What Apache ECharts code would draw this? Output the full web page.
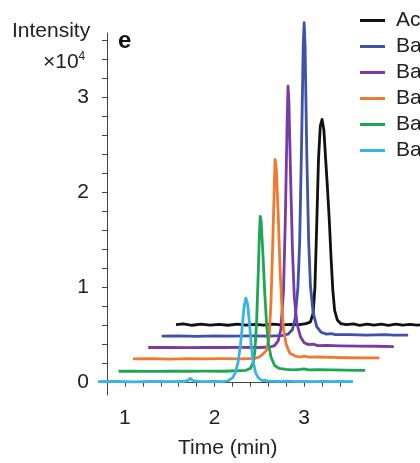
<!DOCTYPE html>
<html>
<head>
<meta charset="utf-8">
<script src="https://cdn.jsdelivr.net/npm/echarts@6/dist/echarts.min.js"></script>
<style>
html,body{margin:0;padding:0;background:#fff;}
#chart{width:420px;height:463px;}
</style>
</head>
<body>
<div id="chart"></div>
<script>
// Series names (legend text is clipped by the picture edge)
const seriesNames = ['Ac', 'Ba1', 'Ba2', 'Ba3', 'Ba4', 'Ba5'];

// Traces in plotted coordinates [time (min), intensity (x10^4)], offset waterfall as in the picture
const acTrace = [[1.57,0.61],[1.65,0.618],[1.75,0.604],[1.85,0.616],[1.95,0.606],[2.05,0.614],[2.15,0.604],[2.25,0.616],[2.35,0.606],[2.45,0.614],[2.55,0.606],[2.65,0.616],[2.75,0.608],[2.85,0.614],[2.95,0.61],[3.02,0.62],[3.07,0.64],[3.10,0.73],[3.12,1.00],[3.14,1.65],[3.16,2.35],[3.18,2.70],[3.20,2.77],[3.22,2.66],[3.24,2.35],[3.26,2.05],[3.28,1.72],[3.30,1.32],[3.32,0.97],[3.34,0.76],[3.37,0.66],[3.41,0.62],[3.47,0.61],[3.55,0.618],[3.62,0.604],[3.70,0.616],[3.78,0.606],[3.86,0.616],[3.94,0.604],[4.02,0.616],[4.10,0.606],[4.18,0.614],[4.26,0.606],[4.35,0.612]];
const ba1Trace = [[1.41,0.49],[1.6,0.492],[1.8,0.488],[2.0,0.492],[2.2,0.49],[2.4,0.492],[2.6,0.49],[2.75,0.495],[2.82,0.51],[2.87,0.56],[2.90,0.68],[2.93,1.00],[2.95,1.48],[2.97,2.45],[2.99,3.55],[3.00,3.79],[3.01,3.55],[3.03,2.38],[3.05,1.50],[3.07,1.02],[3.10,0.74],[3.14,0.59],[3.19,0.53],[3.25,0.51],[3.30,0.515],[3.35,0.505],[3.5,0.505],[3.7,0.50],[3.9,0.505],[4.0,0.50],[4.16,0.50]];
const ba2Trace = [[1.26,0.37],[1.5,0.372],[1.7,0.368],[1.9,0.372],[2.1,0.37],[2.3,0.372],[2.5,0.37],[2.62,0.375],[2.67,0.39],[2.71,0.44],[2.74,0.56],[2.77,0.98],[2.79,1.72],[2.81,2.75],[2.82,3.12],[2.83,2.95],[2.85,2.12],[2.87,1.38],[2.89,0.90],[2.92,0.62],[2.96,0.48],[3.00,0.42],[3.05,0.40],[3.10,0.405],[3.15,0.39],[3.25,0.392],[3.4,0.388],[3.6,0.385],[3.8,0.383],[4.0,0.38]];
const ba3Trace = [[1.09,0.25],[1.3,0.252],[1.5,0.248],[1.7,0.252],[1.9,0.25],[2.1,0.252],[2.3,0.25],[2.45,0.255],[2.50,0.27],[2.54,0.30],[2.58,0.34],[2.61,0.48],[2.63,0.85],[2.65,1.48],[2.665,2.0],[2.675,2.35],[2.69,2.24],[2.71,1.78],[2.73,1.22],[2.75,0.82],[2.77,0.56],[2.80,0.40],[2.84,0.31],[2.90,0.28],[2.95,0.27],[3.00,0.28],[3.05,0.268],[3.15,0.27],[3.3,0.265],[3.5,0.262],[3.7,0.26],[3.84,0.26]];
const ba4Trace = [[0.93,0.12],[1.1,0.122],[1.3,0.118],[1.5,0.122],[1.7,0.12],[1.9,0.122],[2.1,0.12],[2.25,0.125],[2.35,0.13],[2.40,0.15],[2.43,0.21],[2.45,0.33],[2.47,0.65],[2.49,1.22],[2.50,1.55],[2.51,1.75],[2.52,1.70],[2.54,1.35],[2.56,0.95],[2.58,0.63],[2.60,0.42],[2.63,0.27],[2.67,0.18],[2.72,0.15],[2.80,0.14],[2.88,0.135],[2.95,0.14],[3.00,0.145],[3.05,0.135],[3.15,0.138],[3.3,0.135],[3.45,0.132],[3.6,0.13],[3.68,0.13]];
const ba5Trace = [[0.70,0.01],[0.9,0.012],[1.1,0.008],[1.3,0.012],[1.5,0.01],[1.65,0.012],[1.70,0.02],[1.73,0.045],[1.76,0.02],[1.85,0.01],[2.0,0.012],[2.1,0.01],[2.15,0.02],[2.20,0.05],[2.23,0.10],[2.26,0.20],[2.29,0.40],[2.31,0.60],[2.33,0.80],[2.35,0.89],[2.37,0.82],[2.39,0.62],[2.41,0.40],[2.43,0.22],[2.46,0.10],[2.49,0.05],[2.53,0.02],[2.56,0.025],[2.60,0.015],[2.7,0.012],[2.8,0.015],[2.9,0.01],[3.0,0.012],[3.1,0.01],[3.2,0.012],[3.3,0.01],[3.4,0.012],[3.545,0.01]];

// Axis ticks and labels
const xTicks = [0.8,1.0,1.2,1.4,1.6,1.8,2.0,2.2,2.4,2.6,2.8,3.0,3.2,3.4];
const xLabels = [1,2,3];
const yTicks = [0,0.2,0.4,0.6,0.8,1.0,1.2,1.4,1.6,1.8,2.0,2.2,2.4,2.6,2.8,3.0,3.2,3.4,3.6];
const yLabels = [0,1,2,3];

const traces = [acTrace, ba1Trace, ba2Trace, ba3Trace, ba4Trace, ba5Trace];
const colors = ['#111111', '#3f51a9', '#7a3aa6', '#ee7a2f', '#1fa655', '#38b3e4'];
const FONT = '"Liberation Sans", Arial, Helvetica, sans-serif';
const axisColor = '#444';

// Layout of the visible axes box
const W = 420, H = 463;
const G = {left: 107, right: 80, top: 33, bottom: 68};
const X_MIN = 0.8, X_MAX = 3.4, Y_MIN = -0.13, Y_MAX = 3.68;
// A second, invisible grid spanning the whole canvas with the same scale,
// so the offset traces can run past the axes as in the picture.
const xPerPx = (X_MAX - X_MIN) / (W - G.left - G.right);
const yPerPx = (Y_MAX - Y_MIN) / (H - G.top - G.bottom);
const FX_MIN = X_MIN - G.left * xPerPx, FX_MAX = X_MAX + G.right * xPerPx;
const FY_MIN = Y_MIN - G.bottom * yPerPx, FY_MAX = Y_MAX + G.top * yPerPx;

const chart = echarts.init(document.getElementById('chart'), null, {renderer: 'canvas'});
chart.setOption({
  animation: false,
  backgroundColor: '#fff',
  grid: [
    {left: G.left, right: G.right, top: G.top, bottom: G.bottom},
    {left: 0, right: 0, top: 0, bottom: 0}
  ],
  legend: {
    data: seriesNames,
    orient: 'vertical',
    left: 360,
    top: 10,
    padding: 0,
    itemWidth: 25,
    itemHeight: 3,
    itemGap: 5,
    icon: 'rect',
    textStyle: {fontSize: 21, lineHeight: 21, color: '#222', fontFamily: FONT, padding: [0, 0, 0, 6]}
  },
  xAxis: [{
    gridIndex: 0, type: 'value', min: X_MIN, max: X_MAX,
    axisLine: {show: true, lineStyle: {color: axisColor, width: 1}},
    axisTick: {show: true, customValues: xTicks, length: 4, lineStyle: {color: axisColor}},
    axisLabel: {customValues: xLabels, fontSize: 21, color: '#222', fontFamily: FONT, margin: 13},
    splitLine: {show: false}
  }, {
    gridIndex: 1, type: 'value', min: FX_MIN, max: FX_MAX, show: false
  }],
  yAxis: [{
    gridIndex: 0, type: 'value', min: Y_MIN, max: Y_MAX,
    axisLine: {show: true, lineStyle: {color: axisColor, width: 1}},
    axisTick: {show: true, customValues: yTicks, length: 5, lineStyle: {color: axisColor}},
    axisLabel: {customValues: yLabels, fontSize: 21, color: '#222', fontFamily: FONT, margin: 18},
    splitLine: {show: false}
  }, {
    gridIndex: 1, type: 'value', min: FY_MIN, max: FY_MAX, show: false
  }],
  graphic: [
    {type: 'text', left: 12, top: 21, style: {text: 'Intensity', fontSize: 21, fill: '#222', fontFamily: FONT}},
    {type: 'text', left: 43, top: 51, style: {rich: {a: {fontSize: 21, fill: '#222', fontFamily: FONT}, s: {fontSize: 12, fill: '#222', fontFamily: FONT, verticalAlign: 'top', padding: [0,0,10,0]}}, text: '{a|×10}{s|4}'}},
    {type: 'text', left: 118, top: 29, style: {text: 'e', fontSize: 24, fontWeight: 'bold', fill: '#111', fontFamily: FONT}},
    {type: 'text', left: 178, top: 438, style: {text: 'Time (min)', fontSize: 21, fill: '#222', fontFamily: FONT}}
  ],
  series: traces.map((d, i) => ({
    name: seriesNames[i],
    type: 'line',
    xAxisIndex: 1,
    yAxisIndex: 1,
    data: d,
    showSymbol: false,
    symbol: 'none',
    color: colors[i],
    lineStyle: {color: colors[i], width: 2.8, join: 'round'}
  }))
});
</script>
</body>
</html>
